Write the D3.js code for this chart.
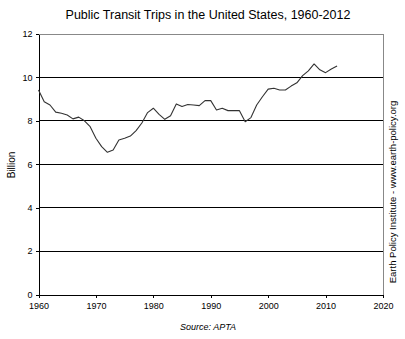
<!DOCTYPE html>
<html><head><meta charset="utf-8">
<script src="https://cdn.jsdelivr.net/npm/d3@7"></script>
<style>
body{margin:0;background:#fff;}
text{font-family:"Liberation Sans",Arial,sans-serif;}
</style></head>
<body><svg id="c" width="405" height="339"></svg>
<script>
const years = d3.range(1960, 2013);
const trips = [9.42,8.88,8.73,8.40,8.35,8.27,8.09,8.17,8.00,7.73,
7.20,6.81,6.55,6.66,7.12,7.20,7.30,7.55,7.90,8.38,
8.58,8.30,8.07,8.23,8.78,8.66,8.75,8.73,8.70,8.93,
8.93,8.50,8.58,8.47,8.47,8.47,7.96,8.15,8.73,9.11,
9.46,9.50,9.42,9.42,9.60,9.75,10.08,10.30,10.62,10.35,
10.22,10.39,10.53];
const xTicks = [1960,1970,1980,1990,2000,2010,2020];
const yTicks = [0,2,4,6,8,10,12];

const svg = d3.select("#c");
const L=38.5, R=383, T=34, B=294.5;
const x = d3.scaleLinear().domain([1960,2020]).range([L,R]);
const y = d3.scaleLinear().domain([0,12]).range([B,T]);

svg.append("g").selectAll("line").data(yTicks.filter(d=>d>0&&d<12)).join("line")
  .attr("x1",L).attr("x2",R).attr("y1",d=>y(d)).attr("y2",d=>y(d))
  .attr("stroke","#000").attr("stroke-width",1).attr("shape-rendering","crispEdges");
svg.append("line").attr("x1",L).attr("x2",R).attr("y1",y(12)).attr("y2",y(12))
  .attr("stroke","#888").attr("shape-rendering","crispEdges");
svg.append("line").attr("x1",R).attr("x2",R).attr("y1",T).attr("y2",B)
  .attr("stroke","#888").attr("shape-rendering","crispEdges");

const xa = svg.append("g").attr("transform",`translate(0,${B})`)
  .call(d3.axisBottom(x).tickValues(xTicks).tickFormat(d3.format("d")).tickSize(3).tickSizeOuter(0));
const ya = svg.append("g").attr("transform",`translate(${L},0)`)
  .call(d3.axisLeft(y).tickValues(yTicks).tickSize(3).tickSizeOuter(0));
[xa,ya].forEach(a=>{
  a.selectAll("path,line").attr("stroke","#000").attr("shape-rendering","crispEdges");
  a.selectAll("text").attr("font-size","9px").attr("fill","#000")
   .style("font-family","'Liberation Sans',Arial,sans-serif");
});
xa.selectAll("text").attr("dy","0.9em");

const line = d3.line().x((d,i)=>x(years[i])).y(d=>y(d));
svg.append("path").datum(trips).attr("d",line).attr("fill","none")
  .attr("stroke","#333").attr("stroke-width",1.1).attr("stroke-linejoin","round");

svg.append("text").attr("x",208).attr("y",19).attr("text-anchor","middle")
  .attr("font-size","12.5px").attr("fill","#000").text("Public Transit Trips in the United States, 1960-2012");
svg.append("text").attr("transform","translate(15,165) rotate(-90)").attr("text-anchor","middle")
  .attr("font-size","10px").text("Billion");
svg.append("text").attr("x",208).attr("y",330).attr("text-anchor","middle")
  .attr("font-size","9px").attr("font-style","italic").text("Source: APTA");
svg.append("text").attr("transform","translate(396,192) rotate(-90)").attr("text-anchor","middle")
  .attr("font-size","9.5px").text("Earth Policy Institute - www.earth-policy.org");
</script></body></html>
